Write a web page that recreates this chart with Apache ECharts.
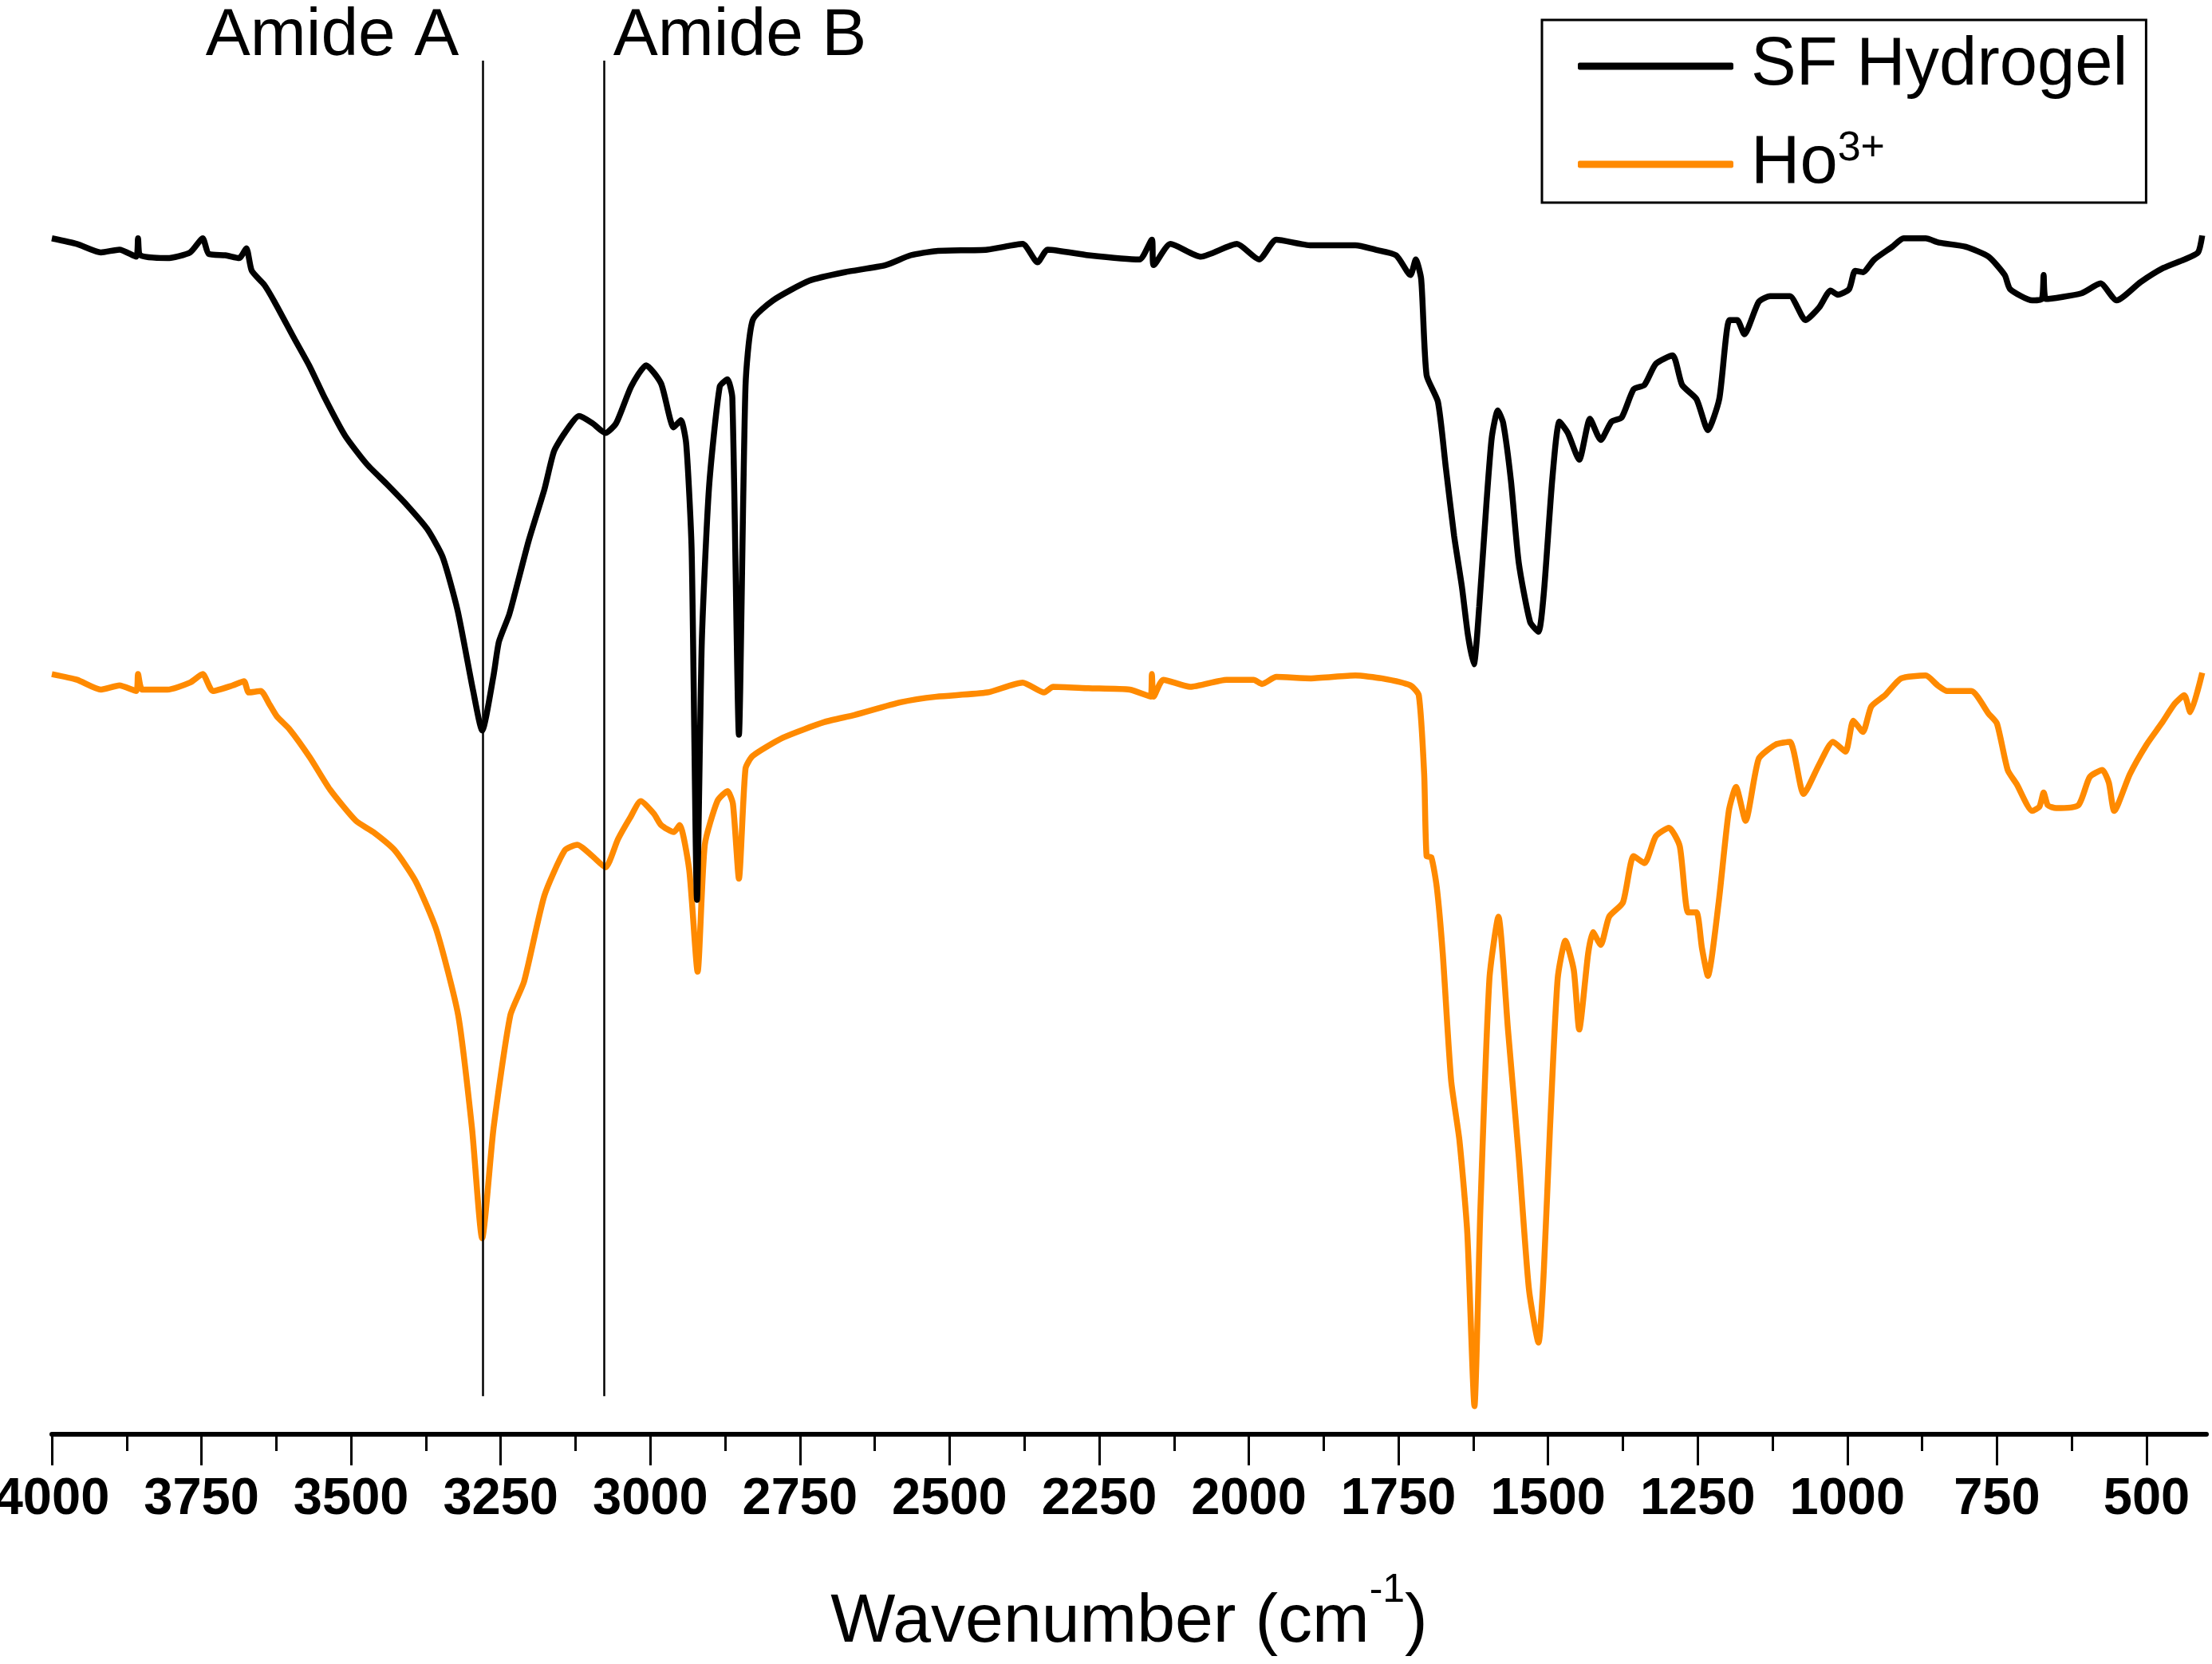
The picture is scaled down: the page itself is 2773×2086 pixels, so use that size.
<!DOCTYPE html>
<html>
<head>
<meta charset="utf-8">
<script src="https://cdn.jsdelivr.net/npm/echarts@6/dist/echarts.min.js"></script>
<style>
html,body{margin:0;padding:0;background:#fff;}
#chart{width:2773px;height:2086px;}
</style>
</head>
<body>
<div id="chart"></div>
<script>
// Tick labels
var majorTicks = [4000,3750,3500,3250,3000,2750,2500,2250,2000,1750,1500,1250,1000,750,500];
var minorTicks = [3875,3625,3375,3125,2875,2625,2375,2125,1875,1625,1375,1125,875,625];

// SF Hydrogel spectrum (offset transmittance, arbitrary units)
var sfWavenumber = [4000,3958,3918,3887,3859,3856,3852,3807,3769,3748,3738,3710,3687,3675,3666,3645,3628,3595,3569,3543,3510,3474,3441,3407,3373,3347,3322,3296,3281,3262,3253,3236,3227,3203,3177,3161,3143,3119,3097,3075,3057,3032,3007,2982,2961,2949,2940,2931,2922,2914,2902,2884,2871,2863,2852,2841,2829,2795,2734,2675,2607,2565,2522,2437,2378,2353,2336,2268,2183,2162,2159,2131,2080,2020,1983,1954,1896,1822,1789,1754,1730,1721,1712,1703,1684,1671,1657,1644,1634,1624,1615,1603,1594,1584,1575,1562,1549,1530,1516,1507,1493,1481,1467,1448,1430,1412,1394,1377,1357,1339,1320,1292,1276,1252,1233,1214,1197,1184,1172,1148,1129,1096,1070,1047,1028,1016,997,987,974,955,925,906,869,847,802,764,737,728,691,675,672,668,609,577,550,510,472,437,414,407];
var sfValues = [848,844,838,840,835,848,836,834,838,848,837,836,834,841,825,815,803,777,757,734,708,688,674,659,642,622,584,527,499,538,562,581,595,634,670,697,710,722,717,710,717,743,758,745,714,719,702,627,379,562,671,743,748,735,496,743,790,804,818,824,829,836,839,840,844,831,840,836,833,847,829,844,835,844,833,847,843,843,840,836,822,833,819,751,732,686,637,601,567,546,587,660,707,726,717,676,618,576,569,597,677,718,710,691,720,705,718,721,741,744,759,765,744,734,712,734,790,790,780,803,807,807,790,799,811,808,812,825,824,833,842,848,848,845,842,835,822,812,804,805,822,805,809,816,804,817,827,833,838,850];

// Ho3+ spectrum
var hoWavenumber = [4000,3958,3918,3887,3859,3856,3849,3807,3769,3748,3731,3698,3679,3671,3651,3637,3624,3603,3569,3535,3492,3463,3427,3392,3357,3321,3298,3281,3262,3234,3211,3177,3143,3122,3097,3075,3054,3034,3016,2994,2982,2961,2951,2935,2921,2909,2888,2871,2862,2852,2841,2829,2778,2709,2659,2582,2522,2437,2378,2342,2327,2268,2199,2164,2162,2159,2143,2098,2037,1992,1978,1954,1896,1822,1778,1730,1716,1707,1703,1695,1686,1676,1662,1648,1635,1623,1613,1598,1583,1567,1549,1532,1516,1507,1497,1484,1471,1457,1448,1433,1425,1412,1398,1375,1357,1339,1320,1298,1280,1266,1252,1243,1233,1215,1198,1186,1170,1148,1120,1096,1073,1047,1024,1003,990,974,960,937,910,869,849,833,793,764,750,732,717,691,679,672,665,651,614,595,574,563,554,528,500,475,453,437,427,407];
var hoValues = [539,535,528,531,527,539,528,528,533,539,527,531,534,526,527,518,509,500,480,457,435,427,414,392,357,297,217,139,217,297,321,382,414,418,410,402,422,437,449,440,432,427,432,400,328,418,449,456,447,394,472,481,494,505,510,519,523,526,533,526,530,529,528,523,539,523,535,530,535,535,532,537,536,538,536,531,524,468,410,409,388,341,251,208,143,20,161,323,367,287,197,103,65,117,215,323,350,329,287,341,356,347,367,377,410,405,424,430,417,370,370,345,325,377,442,459,435,479,489,491,454,475,491,484,506,498,516,524,536,538,531,527,527,511,504,471,461,442,445,455,446,444,446,466,471,462,442,468,489,504,518,524,512,540];

// Annotations
var amideNames = ['Amide A', 'Amide B'];
var amideWavenumbers = [3280, 3078];

var FONT = "'Liberation Sans', Arial, Helvetica, sans-serif";
function pairs(xs, ys){ return xs.map(function(x,i){ return [x, ys[i]]; }); }

var chart = echarts.init(document.getElementById('chart'), null, {renderer:'canvas'});
var option = {
  animation: false,
  backgroundColor: '#fff',
  grid: {left: 65, right: 7, top: 0, bottom: 288, containLabel: false, outerBoundsMode: 'none'},
  legend: {
    show: true,
    orient: 'vertical',
    left: 1933, top: 25,
    padding: [13, 23, 3, 45],
    borderColor: '#000', borderWidth: 3,
    itemWidth: 195, itemHeight: 9, itemGap: 33,
    icon: 'roundRect',
    selectedMode: false,
    data: ['SF Hydrogel', 'Ho3+'],
    formatter: function(n){ return n === 'Ho3+' ? 'Ho{sup|3+}' : n; },
    textStyle: {
      fontFamily: FONT, fontSize: 85, color: '#000', lineHeight: 90,
      padding: [0,0,0,17],
      rich: { sup: {fontFamily: FONT, fontSize: 52, lineHeight: 52, verticalAlign: 'top', color:'#000'} }
    }
  },
  xAxis: [{
    type: 'value', min: 400, max: 4000, inverse: true,
    splitLine: {show: false},
    axisLine: {show: true, onZero: false, lineStyle: {color: '#000', width: 6}},
    axisTick: {show: true, inside: false, length: 39, customValues: majorTicks, lineStyle: {color:'#000', width: 3}},
    axisLabel: {show: true, customValues: majorTicks, margin: 50, fontFamily: FONT, fontSize: 65, fontWeight: 'bold', color: '#000',
      formatter: function(v){ return String(v); }},
    name: 'Wavenumber (cm{sup|-1})',
    nameLocation: 'middle', nameGap: 171,
    nameTextStyle: {
      fontFamily: FONT, fontSize: 86, color: '#000', lineHeight: 130,
      rich: { sup: {fontFamily: FONT, fontSize: 50, lineHeight: 50, verticalAlign: 'top', color:'#000'} }
    }
  }, {
    type: 'value', min: 400, max: 4000, inverse: true, position: 'bottom',
    splitLine: {show: false},
    axisLine: {show: false, onZero: false},
    axisTick: {show: true, inside: false, length: 21, customValues: minorTicks, lineStyle: {color:'#000', width: 3}},
    axisLabel: {show: false}
  }],
  yAxis: {type: 'value', min: 0, max: 1017, show: false},
  series: [{
    name: 'SF Hydrogel', type: 'line', xAxisIndex: 0,
    data: pairs(sfWavenumber, sfValues),
    showSymbol: false, symbol: 'none', smooth: 0.2,
    color: '#000',
    lineStyle: {color: '#000', width: 7.5},
    z: 3,
    markLine: {
      silent: true, symbol: ['none','none'],
      label: {show: false},
      lineStyle: {color: '#000', width: 2.5, type: 'solid'},
      data: amideWavenumbers.map(function(w){ return [{coord:[w, 27]}, {coord:[w, 974]}]; })
    },
    markPoint: {
      silent: true, symbol: 'circle', symbolSize: 0,
      label: {show: true, distance: 0, fontFamily: FONT, fontSize: 84, color: '#000'},
      data: [
        {coord: [amideWavenumbers[0] + 40, 991], label: {position: 'left', formatter: amideNames[0]}},
        {coord: [amideWavenumbers[1] - 16, 991], label: {position: 'right', formatter: amideNames[1]}}
      ]
    }
  }, {
    name: 'Ho3+', type: 'line', xAxisIndex: 0,
    data: pairs(hoWavenumber, hoValues),
    showSymbol: false, symbol: 'none', smooth: 0.2,
    color: '#ff8a00',
    lineStyle: {color: '#ff8a00', width: 7.5},
    z: 2
  }]
};
chart.setOption(option);
</script>
</body>
</html>
